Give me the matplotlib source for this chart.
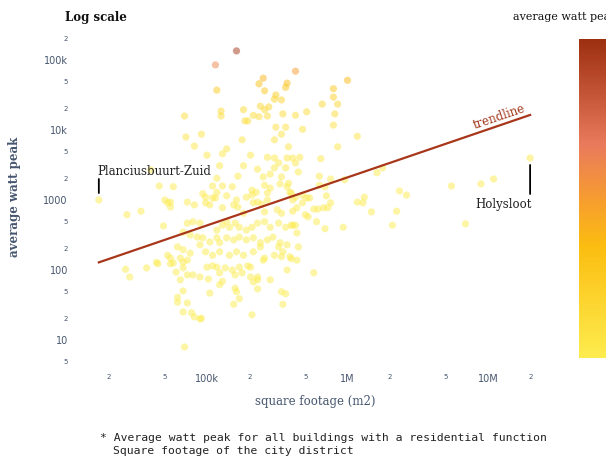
import numpy as np
import matplotlib
matplotlib.use("Agg")
import matplotlib.pyplot as plt
from matplotlib.colors import LinearSegmentedColormap, Normalize
from matplotlib.ticker import FixedLocator, FixedFormatter
from matplotlib.cm import ScalarMappable

# City districts: log10 of square footage (m2) and log10 of average watt peak
footage_log10 = [
    5.21, 5.06, 5.63, 6.00, 5.40, 5.37, 5.57, 5.56, 5.07, 5.41, 5.90, 5.49, 5.48, 5.53, 5.90,
    5.82, 5.93, 5.38, 5.44, 5.41, 5.26, 5.10, 5.71, 5.10, 4.84, 5.54, 5.63, 5.91, 5.33, 5.37,
    5.43, 5.27, 5.29, 5.90, 5.49, 5.56, 5.68,
    4.85, 4.96, 5.53, 6.07, 5.25, 5.48, 4.91, 5.58, 5.93, 5.14, 5.11, 5.00, 5.31, 5.43, 5.48,
    5.57, 5.61, 5.66, 5.81, 5.51, 5.63, 5.09, 5.26, 5.36, 5.48, 5.56, 6.25, 5.65, 6.21, 4.60,
    5.22, 5.40, 5.45, 5.53, 5.80, 5.07, 5.88, 5.98, 7.04,
    4.66, 4.76, 5.04, 5.11, 5.18, 5.32, 5.52, 5.58, 5.41, 5.45, 5.84, 5.80, 6.74, 6.95, 5.35,
    5.57, 5.59, 5.07, 5.60, 4.70, 4.72, 4.74, 4.74, 4.86, 4.91, 4.99, 4.97, 4.99, 5.04, 5.02,
    5.06, 5.14, 5.21, 5.28, 5.32, 5.33, 5.36, 5.39, 5.43, 5.43, 5.63, 5.61, 5.68, 5.73, 5.68,
    5.71, 5.85, 6.37, 6.42, 6.07, 6.12, 6.11, 5.88, 5.19, 5.22, 5.26, 5.11, 5.41, 5.50, 5.53,
    5.64, 5.61, 5.76, 5.79, 5.83, 5.86, 4.53, 4.43, 6.17, 6.35, 5.70, 5.72,
    4.86, 4.90, 4.95, 4.69, 5.07, 5.11, 5.14, 5.16, 5.20, 5.23, 5.28, 5.32, 5.36, 5.41, 5.45,
    5.51, 5.56, 5.60, 5.78, 5.61, 5.63, 5.84, 5.97, 6.32, 6.84, 5.64,
    4.83, 4.88, 4.93, 4.97, 5.02, 5.07, 5.09, 5.14, 5.19, 5.23, 5.28, 5.33, 5.38, 5.43, 5.47,
    5.52, 5.57, 4.79, 4.83, 4.88, 4.95, 4.99, 5.04, 5.09, 5.16, 5.21, 5.26, 5.33, 5.38, 5.41,
    5.48, 5.54, 5.59, 5.64, 5.51, 5.65, 4.64, 4.74, 4.83, 4.57, 4.65, 4.72, 4.76, 4.81, 4.86,
    5.60, 5.53, 4.74, 4.78, 4.83, 4.86, 4.90, 4.95, 5.00, 5.04, 5.07, 5.09, 5.13, 5.18, 5.20,
    5.23, 5.25, 5.29, 5.31, 5.36, 5.40, 5.57, 5.76, 4.42, 4.45, 5.31,
    4.81, 5.01, 5.11, 5.33, 5.45, 5.36, 4.83, 5.02, 5.09, 5.20, 5.21, 5.36, 4.79, 4.79, 4.86,
    5.19, 5.23, 5.53, 5.56, 5.54, 4.83, 4.89, 4.91, 4.95, 4.96, 5.32, 4.84,
]
wattpeak_log10 = [
    5.13, 4.93, 4.84, 4.71, 4.74, 4.66, 4.67, 4.61, 4.57, 4.56, 4.59, 4.50, 4.44, 4.43, 4.47,
    4.37, 4.37, 4.34, 4.33, 4.29, 4.29, 4.27, 4.26, 4.20, 4.20, 4.23, 4.21, 4.23, 4.21, 4.19,
    4.20, 4.13, 4.13, 4.07, 4.04, 4.04, 4.01,
    3.90, 3.94, 3.94, 3.91, 3.86, 3.86, 3.77, 3.76, 3.76, 3.73, 3.66, 3.64, 3.64, 3.61, 3.60,
    3.60, 3.60, 3.61, 3.59, 3.53, 3.53, 3.49, 3.49, 3.44, 3.46, 3.46, 3.46, 3.40, 3.39, 3.43,
    3.34, 3.33, 3.37, 3.33, 3.34, 3.31, 3.30, 3.29, 3.30,
    3.20, 3.19, 3.20, 3.20, 3.19, 3.14, 3.23, 3.24, 3.21, 3.17, 3.19, 3.21, 3.20, 3.23, 3.11,
    3.19, 3.11, 3.11, 3.10, 3.00, 2.96, 2.97, 2.90, 2.97, 2.93, 3.04, 3.09, 2.96, 3.03, 2.93,
    3.03, 3.06, 3.00, 3.04, 3.07, 2.96, 2.97, 2.94, 3.00, 3.10, 3.04, 3.00, 2.96, 3.03, 3.07,
    3.03, 3.06, 3.13, 3.07, 2.97, 3.04, 2.96, 2.96, 2.93, 2.90, 2.81, 2.89, 2.83, 2.86, 2.81,
    2.89, 2.84, 2.87, 2.87, 2.89, 2.89, 2.84, 2.79, 2.83, 2.84, 2.79, 2.76,
    2.67, 2.69, 2.67, 2.63, 2.57, 2.64, 2.69, 2.61, 2.67, 2.61, 2.57, 2.61, 2.67, 2.69, 2.61,
    2.67, 2.61, 2.64, 2.69, 2.64, 2.64, 2.59, 2.61, 2.64, 2.66, 2.53,
    2.54, 2.50, 2.47, 2.46, 2.40, 2.46, 2.39, 2.46, 2.43, 2.47, 2.43, 2.46, 2.39, 2.43, 2.47,
    2.39, 2.36, 2.33, 2.29, 2.24, 2.36, 2.26, 2.21, 2.26, 2.21, 2.26, 2.21, 2.26, 2.33, 2.17,
    2.21, 2.26, 2.19, 2.14, 2.33, 2.33, 2.11, 2.17, 2.11, 2.03, 2.09, 2.21, 2.10, 2.17, 2.14,
    2.16, 2.19, 2.09, 1.97, 2.03, 1.93, 1.93, 1.90, 2.04, 2.06, 2.04, 1.96, 2.03, 2.00, 1.93,
    2.04, 1.96, 2.06, 1.90, 1.90, 2.14, 2.00, 1.96, 2.01, 1.90, 2.04,
    1.86, 1.87, 1.84, 1.83, 1.86, 1.86, 1.70, 1.67, 1.79, 1.74, 1.69, 1.73, 1.61, 1.54, 1.53,
    1.51, 1.59, 1.69, 1.66, 1.51, 1.40, 1.39, 1.33, 1.30, 1.31, 1.36, 0.90,
]

# Labelled districts
district_names = ["Planciusbuurt-Zuid", "Holysloot"]
district_footage_log10 = [4.23, 7.30]
district_wattpeak_log10 = [3.00, 3.60]

# Log-log trendline: log10(watt peak) = intercept + slope * log10(footage)
trend_slope = 0.686
trend_intercept = -0.793

x_major = [1e5, 1e6, 1e7]
x_major_labels = ["100k", "1M", "10M"]
x_minor = [2e4, 5e4, 2e5, 5e5, 2e6, 5e6, 2e7]
x_minor_labels = ["2", "5", "2", "5", "2", "5", "2"]
y_major = [10, 100, 1000, 1e4, 1e5]
y_major_labels = ["10", "100", "1000", "10k", "100k"]
y_minor = [5, 20, 50, 200, 500, 2000, 5000, 2e4, 5e4, 2e5]
y_minor_labels = ["5", "2", "5", "2", "5", "2", "5", "2", "5", "2"]

SLATE = "#46566f"
SERIF = "DejaVu Serif"

cmap = LinearSegmentedColormap.from_list(
    "wattpeak",
    [(0.0, "#fdec4e"), (0.35, "#fbbd10"), (0.5, "#f69c30"),
     (0.67, "#e97a5c"), (1.0, "#9c2f0f")],
)
norm = Normalize(vmin=0, vmax=140000)

fig = plt.figure(figsize=(6.06, 4.63), dpi=100)
ax = fig.add_axes([72 / 606, 95 / 463, 473 / 606, 338 / 463])
ax.set_xscale("log")
ax.set_yscale("log")
ax.set_xlim(10 ** 4.039, 10 ** 7.406)
ax.set_ylim(10 ** 0.6, 10 ** 5.4286)

x_all = 10 ** np.array(footage_log10 + district_footage_log10)
y_all = 10 ** np.array(wattpeak_log10 + district_wattpeak_log10)
ax.scatter(x_all, y_all, c=y_all, cmap=cmap, norm=norm, s=27, alpha=0.5,
           linewidths=0, zorder=2)

# trendline across the footage range
tx = np.array([x_all.min(), x_all.max()])
ty = 10 ** (trend_intercept + trend_slope * np.log10(tx))
ax.plot(tx, ty, color="#a8361b", lw=1.6, zorder=3)

p1 = ax.transData.transform((tx[0], ty[0]))
p2 = ax.transData.transform((tx[1], ty[1]))
angle = np.degrees(np.arctan2(p2[1] - p1[1], p2[0] - p1[0]))
lx = 10 ** 7.093
ly = 10 ** (trend_intercept + trend_slope * 7.093)
ax.annotate("trendline", xy=(lx, ly), xytext=(-2, 8), textcoords="offset pixels",
            rotation=angle, rotation_mode="anchor", ha="center", va="center",
            color="#a3391d", fontsize=8.5, family=SERIF)

# labelled districts
px, py = 10 ** district_footage_log10[0], 10 ** district_wattpeak_log10[0]
ax.annotate("", xy=(px, py), xytext=(0, 21), textcoords="offset pixels",
            arrowprops=dict(arrowstyle="-", color="black", lw=1.3, shrinkA=0, shrinkB=5))
ax.annotate(district_names[0], xy=(px, py), xytext=(-1, 25), textcoords="offset pixels",
            ha="left", va="baseline", fontsize=8.5, family=SERIF, color="#222222")

hx, hy = 10 ** district_footage_log10[1], 10 ** district_wattpeak_log10[1]
ax.annotate("", xy=(hx, hy), xytext=(0, -36), textcoords="offset pixels",
            arrowprops=dict(arrowstyle="-", color="black", lw=1.3, shrinkA=0, shrinkB=5))
ax.annotate(district_names[1], xy=(hx, hy), xytext=(2, -46), textcoords="offset pixels",
            ha="right", va="center", fontsize=8.5, family=SERIF, color="#222222")

# axes styling
for s in ax.spines.values():
    s.set_visible(False)
ax.xaxis.set_major_locator(FixedLocator(x_major))
ax.xaxis.set_major_formatter(FixedFormatter(x_major_labels))
ax.xaxis.set_minor_locator(FixedLocator(x_minor))
ax.xaxis.set_minor_formatter(FixedFormatter(x_minor_labels))
ax.yaxis.set_major_locator(FixedLocator(y_major))
ax.yaxis.set_major_formatter(FixedFormatter(y_major_labels))
ax.yaxis.set_minor_locator(FixedLocator(y_minor))
ax.yaxis.set_minor_formatter(FixedFormatter(y_minor_labels))
ax.tick_params(which="both", length=0, colors=SLATE)
ax.tick_params(which="major", labelsize=7)
ax.tick_params(which="minor", labelsize=5)
ax.tick_params(axis="x", which="both", pad=4)
ax.tick_params(axis="y", which="both", pad=3)

fig.text(15 / 606, 1 - 197 / 463, "average watt peak", rotation=90, ha="center",
         va="center", fontsize=8.5, family=SERIF, color=SLATE, fontweight="bold")
fig.text(315 / 606, 1 - 402 / 463, "square footage (m2)", ha="center", va="center",
         fontsize=8.5, family=SERIF, color=SLATE)
fig.text(65 / 606, 1 - 17 / 463, "Log scale", ha="left", va="center",
         fontsize=8.5, family=SERIF, fontweight="bold", color="#111111")
fig.text(513 / 606, 1 - 17 / 463, "average watt peak", ha="left", va="center",
         fontsize=8, family=SERIF, color="#111111")

# colour scale
cax = fig.add_axes([579 / 606, (463 - 358) / 463, 32 / 606, 319 / 463])
cb = fig.colorbar(ScalarMappable(norm=norm, cmap=cmap), cax=cax)
cb.outline.set_visible(False)
cax.set_yticks([])
cax.set_xticks([])

fig.text(100 / 606, 1 - 438 / 463,
         "* Average watt peak for all buildings with a residential function",
         ha="left", va="center", fontsize=8.2, family="DejaVu Sans Mono", color="#222222")
fig.text(113 / 606, 1 - 451 / 463, "Square footage of the city district",
         ha="left", va="center", fontsize=8.2, family="DejaVu Sans Mono", color="#222222")

fig.savefig("out.png", dpi=100)
